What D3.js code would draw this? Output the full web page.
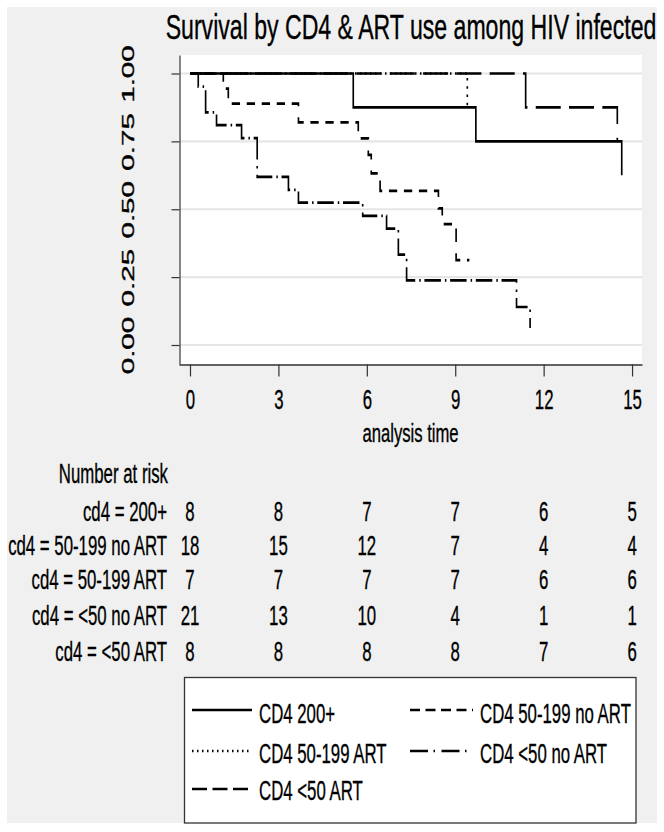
<!DOCTYPE html>
<html>
<head>
<meta charset="utf-8">
<script src="https://cdn.jsdelivr.net/npm/d3@7"></script>
<style>
  html, body { margin: 0; padding: 0; background: #ffffff; }
  svg { display: block; }
  text { font-family: "Liberation Sans", Arial, sans-serif; fill: #000; stroke: #000; stroke-width: 0.35; }
</style>
</head>
<body>
<script>
// ---------------- data ----------------
const titleText = "Survival by CD4 & ART use among HIV infected";
const xTitle = "analysis time";
const timeTicks = [0, 3, 6, 9, 12, 15];
const survTicks = [0, 0.25, 0.5, 0.75, 1];
const survTickLabels = ["0.00", "0.25", "0.50", "0.75", "1.00"];

const groups = ["CD4 200+", "CD4 50-199 no ART", "CD4 50-199 ART", "CD4 <50 no ART", "CD4 <50 ART"];
const riskLabels = ["cd4 = 200+", "cd4 = 50-199 no ART", "cd4 = 50-199 ART", "cd4 = <50 no ART", "cd4 = <50 ART"];

const atRisk200 = [8, 8, 7, 7, 6, 5];
const atRisk50NoArt = [18, 15, 12, 7, 4, 4];
const atRisk50Art = [7, 7, 7, 7, 6, 6];
const atRiskLt50NoArt = [21, 13, 10, 4, 1, 1];
const atRiskLt50Art = [8, 8, 8, 8, 7, 6];

// Kaplan-Meier step points (time, survival after the step)
const times200 = [0, 5.54, 9.70, 14.65];
const surv200 = [1, 0.875, 0.75, 0.625];
const times50NoArt = [0, 1.13, 1.30, 3.68, 5.71, 6.05, 6.15, 6.45, 8.43, 8.56, 9.03, 9.48];
const surv50NoArt = [1, 0.944, 0.889, 0.82, 0.761, 0.70, 0.632, 0.568, 0.503, 0.445, 0.313, 0.313];
const times50Art = [0, 9.41];
const surv50Art = [1, 0.87];
const timesLt50NoArt = [0, 0.28, 0.53, 0.90, 1.75, 2.28, 3.34, 3.68, 5.86, 6.67, 7.07, 7.35, 11.08, 11.54];
const survLt50NoArt = [1, 0.952, 0.857, 0.81, 0.762, 0.619, 0.571, 0.524, 0.476, 0.429, 0.333, 0.238, 0.14, 0.063];
const timesLt50Art = [0, 11.39, 14.50];
const survLt50Art = [1, 0.875, 0.75];

// ---------------- assemble ----------------
const curveTimes = [times200, times50NoArt, times50Art, timesLt50NoArt, timesLt50Art];
const curveSurv = [surv200, surv50NoArt, surv50Art, survLt50NoArt, survLt50Art];
const atRiskRows = [atRisk200, atRisk50NoArt, atRisk50Art, atRiskLt50NoArt, atRiskLt50Art];

// styles
const plotDash = ["none", "8.3,6.7", "1.5,3.5", "16.5,4,1.5,3.7", "25,8.3"];
const legendDash = ["none", "10,5.5", "1.5,3.5", "18,5.5,1.5,6.5", "15,5.5"];
const drawOrder = [4, 2, 3, 1, 0];

const W = 664, H = 832;
const K = 1.65; // vertical stretch of the original picture
const SX = 0.6; // horizontal squeeze of text

const svg = d3.select("body").append("svg").attr("width", W).attr("height", H);

// backgrounds
svg.append("rect").attr("x", 0).attr("y", 0).attr("width", W).attr("height", H).attr("fill", "#ffffff");
svg.append("rect").attr("x", 7).attr("y", 7).attr("width", 650).attr("height", 816).attr("fill", "#f0f0f0");

// scales
const pxPerUnitT = 29.47;
const x = d3.scaleLinear()
  .domain([(179 - 190) / pxPerUnitT, (642 - 190) / pxPerUnitT])
  .range([179, 642]);
const pxPerUnitS = 271.5;
const y = d3.scaleLinear()
  .domain([(345 - 364) / pxPerUnitS, 1 + (73.5 - 55) / pxPerUnitS])
  .range([364, 55]);

// plot region
svg.append("rect")
  .attr("x", x.range()[0]).attr("y", y.range()[1])
  .attr("width", x.range()[1] - x.range()[0])
  .attr("height", y.range()[0] - y.range()[1])
  .attr("fill", "#ffffff");

// gridlines
svg.append("g").selectAll("line").data(survTicks).join("line")
  .attr("x1", x.range()[0] + 1).attr("x2", x.range()[1])
  .attr("y1", d => y(d)).attr("y2", d => y(d))
  .attr("stroke", "#e6e6e6").attr("stroke-width", 2.2);

// curves, drawn in a vertically stretched group
const yC = y.copy().range(y.range().map(v => v / K));
const line = d3.line().x(d => x(d[0])).y(d => yC(d[1])).curve(d3.curveStepAfter);
const curveG = svg.append("g").attr("transform", `scale(1,${K})`);
drawOrder.forEach(i => {
  const pts = curveTimes[i].map((t, j) => [t, curveSurv[i][j]]);
  curveG.append("path")
    .attr("d", line(pts))
    .attr("fill", "none")
    .attr("stroke", "#000")
    .attr("stroke-width", 1.65)
    .attr("stroke-dasharray", plotDash[i]);
});

// y axis
const yAxisG = svg.append("g").attr("transform", `translate(${x.range()[0] + 0.5},0)`)
  .call(d3.axisLeft(y).tickValues(survTicks).tickSize(8).tickSizeOuter(0)
    .tickFormat((d, i) => survTickLabels[i]));
yAxisG.select(".domain").attr("stroke", "#333").attr("stroke-width", 1.2);
yAxisG.selectAll(".tick line").attr("stroke", "#333").attr("stroke-width", 1.2);
yAxisG.selectAll(".tick text")
  .attr("x", null).attr("dy", null).attr("y", null)
  .attr("text-anchor", "middle")
  .attr("font-size", 16.3)
  .attr("fill", "#000")
  .attr("transform", "translate(-46,0) rotate(-90) scale(1.82,1)");

// x axis
const xAxisG = svg.append("g").attr("transform", `translate(0,${y.range()[0] + 0.5})`)
  .call(d3.axisBottom(x).tickValues(timeTicks).tickSize(12).tickSizeOuter(0).tickFormat(d3.format("d")));
xAxisG.select(".domain").attr("stroke", "#333").attr("stroke-width", 1.5);
xAxisG.selectAll(".tick line").attr("stroke", "#333").attr("stroke-width", 1.2);
xAxisG.selectAll(".tick text")
  .attr("y", 44.5).attr("dy", null)
  .attr("font-size", 28)
  .attr("fill", "#000")
  .attr("transform", `scale(${SX},1)`);

function stretchText(str, px, py, size, sx, anchor) {
  return svg.append("text")
    .attr("transform", `translate(${px},${py}) scale(${sx},1)`)
    .attr("font-size", size)
    .attr("text-anchor", anchor)
    .text(str);
}

// title & axis title
stretchText(titleText, 411, 38.5, 35, 0.66, "middle");
stretchText(xTitle, (x.range()[0] + x.range()[1]) / 2, 441.5, 26, 0.64, "middle");

// number at risk table
stretchText("Number at risk", 168, 483, 28, SX, "end");
const rowBase = [520.5, 555, 589, 625, 661];
riskLabels.forEach((lab, i) => {
  stretchText(lab, 167, rowBase[i], 28, SX, "end");
  atRiskRows[i].forEach((n, j) => {
    stretchText(String(n), x(timeTicks[j]), rowBase[i], 28, SX, "middle");
  });
});

// legend
svg.append("rect")
  .attr("x", 184.5).attr("y", 677.5).attr("width", 451.5).attr("height", 145.5)
  .attr("fill", "#ffffff").attr("stroke", "#333").attr("stroke-width", 1.3);
const legCols = [{x0: 192, x1: 252, tx: 259}, {x0: 410, x1: 473, tx: 480}];
const legBase = [723, 763, 800];
const legLineY = [710, 751, 789];
groups.forEach((g, i) => {
  const c = legCols[i % 2], r = Math.floor(i / 2);
  svg.append("line")
    .attr("x1", c.x0).attr("x2", c.x1)
    .attr("y1", legLineY[r]).attr("y2", legLineY[r])
    .attr("stroke", "#000").attr("stroke-width", 2.4)
    .attr("stroke-dasharray", legendDash[i]);
  stretchText(g, c.tx, legBase[r], 28, SX, "start");
});
</script>
</body>
</html>
